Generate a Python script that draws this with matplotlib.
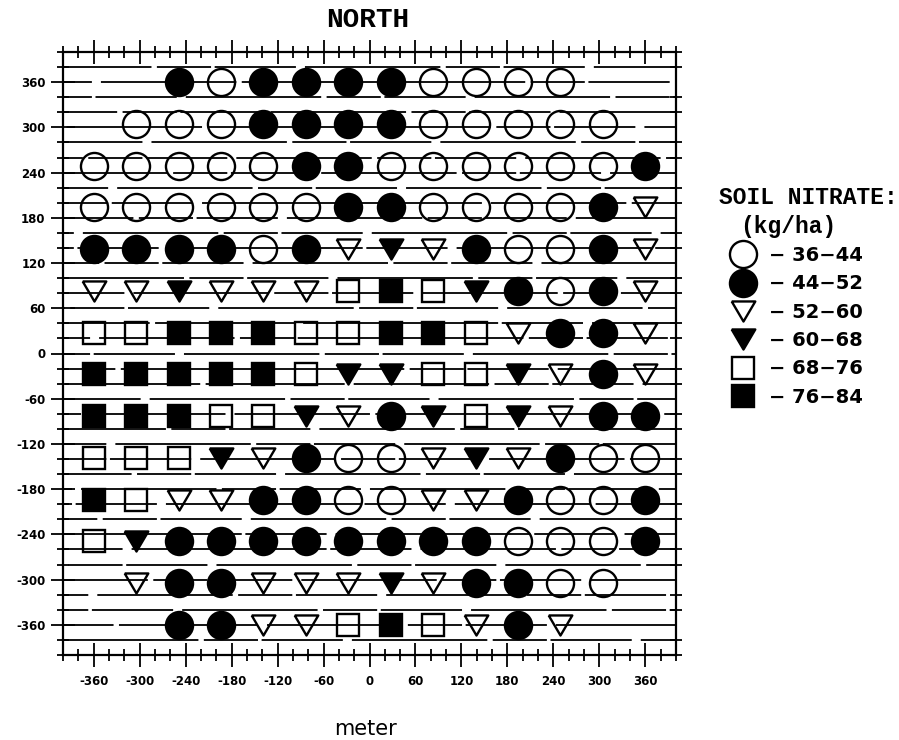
import numpy as np
import matplotlib.pyplot as plt
from matplotlib.ticker import FixedLocator, MultipleLocator
from matplotlib.lines import Line2D

# nitrate classes (kg/ha) and the symbol used for each
class_labels = ['\u2212 36\u221244', '\u2212 44\u221252', '\u2212 52\u221260',
                '\u2212 60\u221268', '\u2212 68\u221276', '\u2212 76\u221284']
tri_down = [(-1.0, 0.85), (1.0, 0.85), (0.0, -0.85), (-1.0, 0.85)]
class_markers = ['o', 'o', tri_down, tri_down, 's', 's']
class_filled = [False, True, False, True, False, True]
class_sizes = [19.5, 19.5, 17, 17, 15.5, 15.5]

# sampling grid, 14 x 14 points (meter)
grid_x = np.linspace(-360, 360, 14)
grid_y = np.linspace(360, -360, 14)

# class index per grid point, rows from north to south, None = not sampled
N = None
nitrate_class = [
    [N, N, 1, 0, 1, 1, 1, 1, 0, 0, 0, 0, N, N],
    [N, 0, 0, 0, 1, 1, 1, 1, 0, 0, 0, 0, 0, N],
    [0, 0, 0, 0, 0, 1, 1, 0, 0, 0, 0, 0, 0, 1],
    [0, 0, 0, 0, 0, 0, 1, 1, 0, 0, 0, 0, 1, 2],
    [1, 1, 1, 1, 0, 1, 2, 3, 2, 1, 0, 0, 1, 2],
    [2, 2, 3, 2, 2, 2, 4, 5, 4, 3, 1, 0, 1, 2],
    [4, 4, 5, 5, 5, 4, 4, 5, 5, 4, 2, 1, 1, 2],
    [5, 5, 5, 5, 5, 4, 3, 3, 4, 4, 3, 2, 1, 2],
    [5, 5, 5, 4, 4, 3, 2, 1, 3, 4, 3, 2, 1, 1],
    [4, 4, 4, 3, 2, 1, 0, 0, 2, 3, 2, 1, 0, 0],
    [5, 4, 2, 2, 1, 1, 0, 0, 2, 2, 1, 0, 0, 1],
    [4, 3, 1, 1, 1, 1, 1, 1, 1, 1, 0, 0, 0, 1],
    [N, 2, 1, 1, 2, 2, 2, 3, 2, 1, 1, 0, 0, N],
    [N, N, 1, 1, 2, 2, 4, 5, 4, 2, 1, 2, N, N],
]

tick_vals = list(range(-360, 361, 60))
tick_labels = ['-360', '-300', '-240', '-180', '-120', '-60', '0',
               '60', '120', '180', '240', '300', '360']

fig = plt.figure(figsize=(8.99, 7.40), dpi=100)
ax = fig.add_axes([63 / 899, 1 - 655 / 740, 613 / 899, 603 / 740])
ax.set_xlim(-400, 400)
ax.set_ylim(-400, 400)

# horizontal lines every 20 m, broken like the plotter original
for n, yy in enumerate(range(-380, 381, 20)):
    ax.axhline(yy, color='black', lw=1.3, zorder=1,
               ls=((n * 47) % 160, (75, 3, 30, 2, 45, 5)))

for k in range(len(class_labels)):
    xs, ys = [], []
    for i, row in enumerate(nitrate_class):
        for j, c in enumerate(row):
            if c == k:
                xs.append(grid_x[j])
                ys.append(grid_y[i])
    ax.plot(xs, ys, ls='none', marker=class_markers[k], ms=class_sizes[k],
            mfc='black' if class_filled[k] else 'none', mec='black',
            mew=1.7, zorder=3)

for sp in ax.spines.values():
    sp.set_linewidth(1.6)

ax.xaxis.set_major_locator(FixedLocator(tick_vals))
ax.yaxis.set_major_locator(FixedLocator(tick_vals))
ax.xaxis.set_minor_locator(MultipleLocator(20))
ax.yaxis.set_minor_locator(MultipleLocator(20))
ax.set_xticklabels(tick_labels, fontsize=8.5, fontweight='bold')
ax.set_yticklabels(tick_labels, fontsize=8.5, fontweight='bold')
ax.tick_params(which='major', direction='inout', length=17, width=1.3,
               top=True, right=False, pad=6)
ax.tick_params(which='minor', direction='inout', length=8, width=1.3,
               top=True, right=True)
ax.tick_params(axis='y', which='major', pad=4)

fig.text(366 / 899, 1 - 729 / 740, 'meter', fontsize=15,
         ha='center', va='center')

fig.text(368 / 899, 1 - 20 / 740, 'NORTH', family='Liberation Mono',
         fontweight='bold', fontsize=20, ha='center', va='center')
fig.text(719 / 899, 1 - 198 / 740, 'SOIL NITRATE:', family='Liberation Mono',
         fontweight='bold', fontsize=16.5, ha='left', va='center')
fig.text(740 / 899, 1 - 226 / 740, '(kg/ha)', family='Liberation Mono',
         fontweight='bold', fontsize=16.5, ha='left', va='center')

handles = [Line2D([], [], ls='none', marker=class_markers[k], ms=class_sizes[k],
                  mfc='black' if class_filled[k] else 'none', mec='black', mew=1.7)
           for k in range(len(class_labels))]
leg = fig.legend(handles, class_labels, loc='upper left',
                 bbox_to_anchor=(728 / 899, 1 - 246 / 740), frameon=False,
                 borderpad=0, borderaxespad=0, handlelength=1.5,
                 handletextpad=0.6, labelspacing=0.48,
                 prop={'weight': 'bold', 'size': 14})

fig.savefig('out.png', dpi=100)
